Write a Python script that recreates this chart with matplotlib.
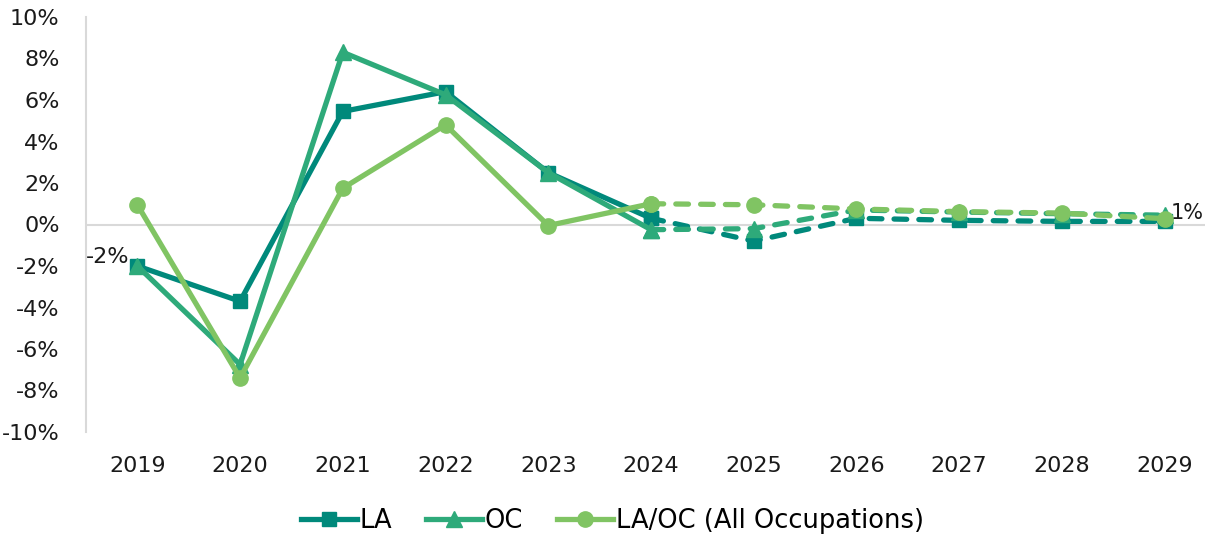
import numpy as np
import matplotlib.pyplot as plt
import matplotlib.transforms as mtransforms
from matplotlib.lines import Line2D

years = ['2019', '2020', '2021', '2022', '2023', '2024', '2025', '2026', '2027', '2028', '2029']
la = [-2.0, -3.7, 5.45, 6.4, 2.5, 0.3, -0.8, 0.3, 0.2, 0.15, 0.15]
oc = [-2.0, -6.75, 8.3, 6.25, 2.5, -0.25, -0.2, 0.7, 0.6, 0.52, 0.45]
all_occ = [0.95, -7.4, 1.75, 4.8, -0.05, 1.0, 0.95, 0.75, 0.62, 0.55, 0.28]
split = 5  # last actual year index (2024), forecast after

c_la = '#00897b'
c_oc = '#2eaa7a'
c_all = '#80c463'

plt.rcParams['font.family'] = ['DejaVu Sans']

fig = plt.figure(figsize=(12.05, 5.37), dpi=100)
ax = fig.add_axes([86/1205, 1-432/537, (1216-86)/1205, (432-17)/537])

x = np.arange(len(years))
lw = 3.8
series = [(la, c_la, 's', 10), (oc, c_oc, '^', 11), (all_occ, c_all, 'o', 11)]
for vals, col, mk, ms in series:
    v = np.array(vals)
    ax.plot(x[:split+1], v[:split+1], color=col, lw=lw, marker=mk, ms=ms, zorder=3)
    ax.plot(x[split:], v[split:], color=col, lw=lw, ls=(0, (2.4, 2.3)), dash_capstyle='round',
            marker=mk, ms=ms, zorder=3)

ax.axhline(0, color='#d9d9d9', lw=1.5, zorder=1)
ax.set_xlim(-0.5, 10.5)
ax.set_ylim(-10, 10)
ax.set_yticks(range(-10, 11, 2))
ax.set_yticklabels([f'{t}%' for t in range(-10, 11, 2)])
ax.set_xticks(x)
ax.set_xticklabels(years)
for s in ['top', 'right', 'bottom']:
    ax.spines[s].set_visible(False)
ax.spines['left'].set_color('#d9d9d9')
ax.spines['left'].set_linewidth(1.5)
ax.tick_params(length=0, labelsize=16, colors='#1a1a1a')
ax.tick_params(axis='x', pad=17)
ax.tick_params(axis='y', pad=19)

ax.text(x[0] - 0.08, la[0] + 0.45, '-2%', ha='right', va='center', fontsize=16, color='#1a1a1a')
trans = mtransforms.blended_transform_factory(fig.transFigure, ax.transData)
ax.text(0.999, oc[-1] + 0.1, '1%', transform=trans, ha='right', va='center',
        fontsize=15, color='#1a1a1a')

handles = [Line2D([], [], color=c_la, lw=lw, marker='s', ms=10),
           Line2D([], [], color=c_oc, lw=lw, marker='^', ms=11),
           Line2D([], [], color=c_all, lw=lw, marker='o', ms=11)]
fig.legend(handles, ['LA', 'OC', 'LA/OC (All Occupations)'], loc='center', ncol=3,
           bbox_to_anchor=(0.508, 1-521/537), frameon=False, fontsize=18.5,
           handlelength=2.2, handletextpad=0.1, columnspacing=1.3)

fig.savefig('out.png', dpi=100)
